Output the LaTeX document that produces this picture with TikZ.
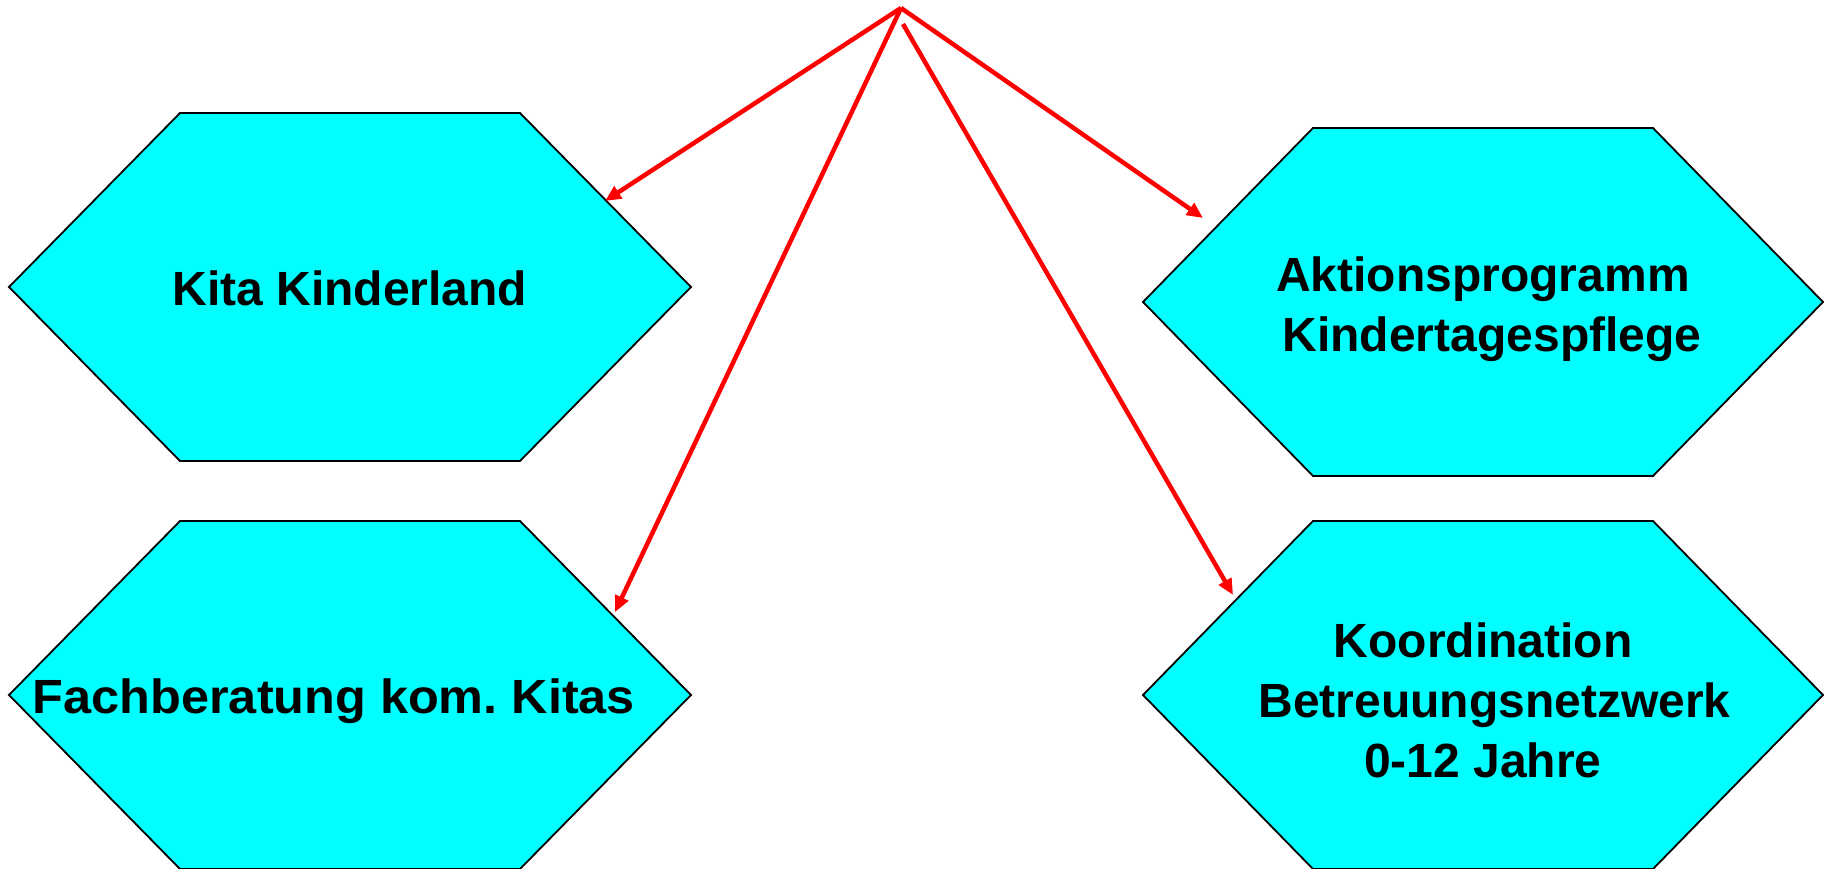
\documentclass[tikz,border=0pt]{standalone}
\usepackage{fontspec}
\setmainfont{Liberation Sans}
\usetikzlibrary{arrows.meta}
\definecolor{hexfill}{RGB}{0,255,255}
\definecolor{arrowred}{RGB}{255,0,0}
\tikzset{
  hexshape/.style={fill=hexfill, draw=black, line width=1.8pt, line join=miter},
  hextext/.style={font=\fontsize{48}{60}\selectfont\bfseries, align=center, text=black, inner sep=0pt},
  redarrow/.style={draw=arrowred, line width=4.5pt, -{Triangle[length=16pt,width=14pt]}}
}
\begin{document}
\frenchspacing
\begin{tikzpicture}[x=1pt,y=-1pt]
\useasboundingbox (0,0) rectangle (1824,869);
% hexagons
\path[hexshape] (9,287) -- (180,113) -- (520,113) -- (691,287) -- (520,461) -- (180,461) -- cycle;
\path[hexshape] (9,695) -- (180,521) -- (520,521) -- (691,695) -- (520,869) -- (180,869) -- cycle;
\path[hexshape] (1143,302) -- (1313,128) -- (1653,128) -- (1823,302) -- (1653,476) -- (1313,476) -- cycle;
\path[hexshape] (1143,695) -- (1313,521) -- (1653,521) -- (1823,695) -- (1653,869) -- (1313,869) -- cycle;
% texts
\node[hextext] (kita) at (350,288) {Kita Kinderland};
\node[hextext, xscale=1.05] (fach) at (334,701) {Fachberatung kom. Kitas};
\node[hextext] (aktion) at (1483,309) {Aktionsprogramm\\\hspace*{18pt}Kindertagespflege};
\node[hextext] (koord) at (1483,700) {Koordination\\\hspace*{23pt}Betreuungsnetzwerk\\0-12 Jahre};
% connector points
\coordinate (apex) at (901,8);
\coordinate (apexb) at (903,24);
\coordinate (tkita) at (605,201);
\coordinate (taktion) at (1203,218);
\coordinate (tfach) at (615,612);
\coordinate (tkoord) at (1233,595);
\draw[redarrow] (apex) -- (tkita);
\draw[redarrow] (apex) -- (taktion);
\draw[redarrow] (apex) -- (tfach);
\draw[redarrow] (apexb) -- (tkoord);
\end{tikzpicture}
\end{document}
